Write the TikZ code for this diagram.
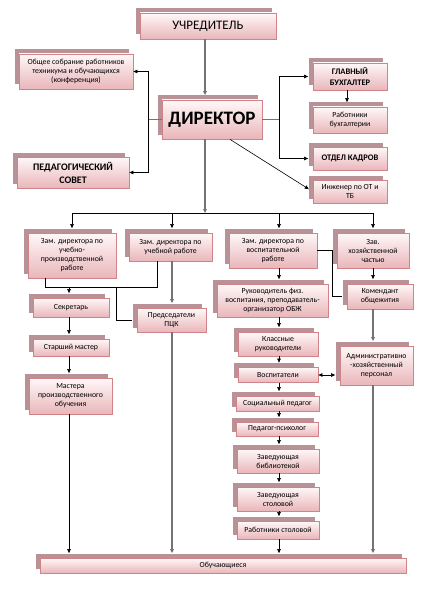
\documentclass[tikz,border=0pt]{standalone}
\usepackage{fontspec}
\setmainfont{Carlito}
\usetikzlibrary{arrows.meta,shadows}
\definecolor{boxline}{RGB}{208,132,138}
\definecolor{boxtop}{RGB}{255,248,248}
\definecolor{boxbot}{RGB}{233,182,186}
\definecolor{boxshade}{RGB}{184,146,150}
\tikzset{>={Triangle[length=4pt,width=3.6pt]},
 box/.style={draw=boxline,line width=.8pt,top color=boxtop,bottom color=boxbot,align=center,inner sep=1pt,
  font=\fontsize{7.8}{9}\selectfont,drop shadow={fill=boxshade,opacity=1,shadow xshift=-4.5pt,shadow yshift=4.5pt}},
 sz/.style 2 args={minimum width=#1pt,minimum height=#2pt},
 caps/.style={font=\fontsize{8.5}{10.5}\selectfont\bfseries},
 link/.style={line width=.6pt},
 trunk/.style={line width=1.1pt,black!55},
 into/.style={->,shorten >=4.5pt}}

\begin{document}
\begin{tikzpicture}[x=1pt,y=-1pt]
\useasboundingbox (0,0) rectangle (421,599);
% руководство
\node[box,sz={136}{26},font=\fontsize{13}{15}\selectfont] (uchr) at (208,26) {УЧРЕДИТЕЛЬ};
\node[box,sz={100}{39},font=\fontsize{19}{22}\selectfont\bfseries] (dir) at (212,119.5) {ДИРЕКТОР};
\node[box,sz={114}{35}] (sobr) at (76,71.5) {Общее собрание работников\\техникума и обучающихся\\(конференция)};
\node[box,sz={112}{31},font=\fontsize{10}{13}\selectfont\bfseries] (pedsov) at (73,172.5) {ПЕДАГОГИЧЕСКИЙ\\СОВЕТ};
\node[box,sz={74}{27},caps] (glbuh) at (350,76.5) {ГЛАВНЫЙ\\БУХГАЛТЕР};
\node[box,sz={74}{26}] (rabbuh) at (350,120) {Работники\\бухгалтерии};
\node[box,sz={74}{23},caps] (kadr) at (350,158.5) {ОТДЕЛ КАДРОВ};
\node[box,sz={74}{23}] (inzh) at (350,191.5) {Инженер по ОТ и\\ТБ};
% заместители
\node[box,sz={88}{45}] (zam1) at (72,255.5) {Зам. директора по\\учебно-\\производственной\\работе};
\node[box,sz={83}{28}] (zam2) at (170.5,247) {Зам. директора по\\учебной работе};
\node[box,sz={88}{35}] (zam3) at (273,250.5) {Зам. директора по\\воспитательной\\работе};
\node[box,sz={72}{35}] (zam4) at (373,250.5) {Зав.\\хозяйственной\\частью};
% службы
\node[box,sz={76}{19}] (sekr) at (71,307.5) {Секретарь};
\node[box,sz={76}{17}] (stmas) at (71,347.5) {Старший мастер};
\node[box,sz={83}{36}] (mast) at (70.5,396) {Мастера\\производственного\\обучения};
\node[box,sz={69}{24}] (pck) at (171.5,320) {Председатели\\ПЦК};
\node[box,sz={111}{33}] (ruk) at (272.5,300.5) {Руководитель физ.\\воспитания, преподаватель-\\организатор ОБЖ};
\node[box,sz={80}{24}] (klass) at (278,344) {Классные\\руководители};
\node[box,sz={80}{15}] (vosp) at (278,375) {Воспитатели};
\node[box,sz={83}{15}] (soc) at (277.5,403.5) {Социальный педагог};
\node[box,sz={82}{14}] (psy) at (277,429) {Педагог-психолог};
\node[box,sz={82}{24}] (bibl) at (278,461) {Заведующая\\библиотекой};
\node[box,sz={82}{24}] (stol) at (278,499) {Заведующая\\столовой};
\node[box,sz={82}{18}] (rabst) at (278,530) {Работники столовой};
\node[box,sz={66}{25}] (kom) at (380,296.5) {Комендант\\общежития};
\node[box,sz={73}{39}] (adm) at (376.5,365.5) {Административно\\-хозяйственный\\персонал};
\node[box,sz={366}{15}] (obuch) at (223,565.5) {Обучающиеся};
% опорные точки линий
\coordinate (c0) at (205,0);
\coordinate (c1) at (69,0);
\coordinate (c2) at (172,0);
\coordinate (c3) at (279,0);
\coordinate (c4) at (373,0);
\coordinate (lbus) at (148,0);
\coordinate (rbus) at (279,0);
\coordinate (cb) at (347,0);
\coordinate (pk) at (116,0);
\coordinate (kb) at (332,0);
\coordinate (busl) at (72,213);
\coordinate (busr) at (373,213);
\coordinate (ua) at (45,287);
\coordinate (ub) at (157,287);
% связи директора
\draw[trunk,into] (uchr.south -| c0) -- (dir.north -| c0);
\draw[trunk] (dir.west) -- (dir.west -| lbus);
\draw[link,->] (dir.west -| lbus) |- (sobr.east);
\draw[link,->] (dir.west -| lbus) |- (pedsov.east);
\draw[trunk] (dir.east) -- (dir.east -| rbus);
\draw[link,into] (dir.east -| rbus) |- (glbuh.west);
\draw[link,into] (dir.east -| rbus) |- (kadr.west);
\draw[link,into] (glbuh.south -| cb) -- (rabbuh.north -| cb);
\draw[link,into] ([xshift=18pt]dir.south) -- (inzh.west);
\draw[trunk,->] (dir.south -| c0) -- (busl -| c0);
\draw[link] (busl) -- (busr);
\draw[link,into] (busl) -- (zam1.north -| busl);
\draw[link,into] (busl -| c2) -- (zam2.north -| c2);
\draw[link,into] (busl -| c3) -- (zam3.north -| c3);
\draw[link,into] (busr) -- (zam4.north -| busr);
% левая ветвь
\draw[link] (zam1.south -| ua) -- (ua) -- (ub) -- (zam2.south -| ub);
\draw[link,into] (ua -| c1) -- (sekr.north -| c1);
\draw[link,shorten >=4.5pt] (ua -| pk) |- (pck.west);
\draw[link,into] (sekr.south -| c1) -- (stmas.north -| c1);
\draw[link,into] (stmas.south -| c1) -- (mast.north -| c1);
\draw[link,into] (mast.south -| c1) -- (obuch.north -| c1);
\draw[trunk,into] (zam2.south -| c2) -- (pck.north -| c2);
\draw[trunk,into] (pck.south -| c2) -- (obuch.north -| c2);
% воспитательная ветвь
\draw[link,into] (zam3.south -| c3) -- (ruk.north -| c3);
\draw[link,into] (ruk.south -| c3) -- (klass.north -| c3);
\draw[link,into] (klass.south -| c3) -- (vosp.north -| c3);
\draw[link,into] (vosp.south -| c3) -- (soc.north -| c3);
\draw[link,into] (soc.south -| c3) -- (psy.north -| c3);
\draw[link,into] (psy.south -| c3) -- (bibl.north -| c3);
\draw[link,into] (bibl.south -| c3) -- (stol.north -| c3);
\draw[link,into] (stol.south -| c3) -- (rabst.north -| c3);
\draw[link,into] (rabst.south -| c3) -- (obuch.north -| c3);
\draw[link,<->,shorten >=4.5pt] (vosp.east) -- (vosp.east -| adm.west);
% хозяйственная ветвь
\draw[link,shorten >=4.5pt] (zam3.east) -- (zam3.east -| kb) |- (kom.west);
\draw[link,into] (zam4.south -| c4) -- (kom.north -| c4);
\draw[trunk,into] (kom.south -| c4) -- (adm.north -| c4);
\draw[trunk,into] (adm.south -| c4) -- (obuch.north -| c4);
\end{tikzpicture}
\end{document}
